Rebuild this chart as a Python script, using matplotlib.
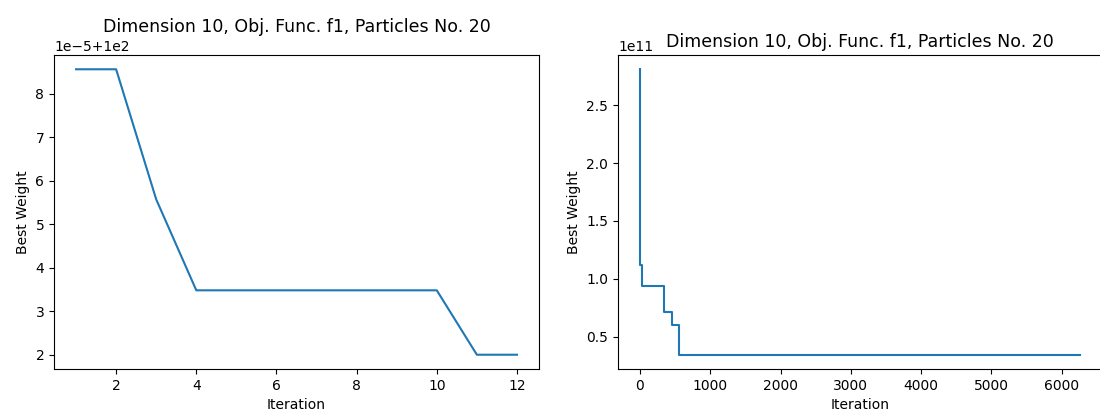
import matplotlib
matplotlib.use("Agg")
import matplotlib.pyplot as plt

# Left chart: iterations 1..12, best weight (value ~100 + small)
left_iter = [1, 2, 3, 4, 5, 6, 7, 8, 9, 10, 11, 12]
left_best = [100.0000856, 100.0000856, 100.0000557, 100.0000348, 100.0000348,
             100.0000348, 100.0000348, 100.0000348, 100.0000348, 100.0000348,
             100.0000200, 100.0000200]

# Right chart: change points of best weight (step function)
right_iter = [0, 1, 33, 336, 453, 560, 6260]
right_best = [2.81e11, 1.122e11, 0.94e11, 0.71e11, 0.60e11, 0.345e11, 0.345e11]

title = "Dimension 10, Obj. Func. f1, Particles No. 20"

fig = plt.figure(figsize=(11, 4.12), dpi=100)
W, H = 1100, 412
ax1 = fig.add_axes([54 / W, (H - 369) / H, (539 - 54) / W, (369 - 55) / H])
ax2 = fig.add_axes([618 / W, (H - 369) / H, (1102 - 618) / W, (369 - 55) / H])

ax1.plot(left_iter, left_best, color="#1f77b4", linewidth=1.5)
ax1.set_title(title, fontsize=12.5)
ax1.set_xlabel("Iteration")
ax1.set_ylabel("Best Weight")

ax2.plot(right_iter, right_best, color="#1f77b4", linewidth=1.5, drawstyle="steps-post")
ax2.set_title(title, fontsize=12.5)
ax2.set_xlabel("Iteration")
ax2.set_ylabel("Best Weight")

fig.savefig("out.png", dpi=100)
